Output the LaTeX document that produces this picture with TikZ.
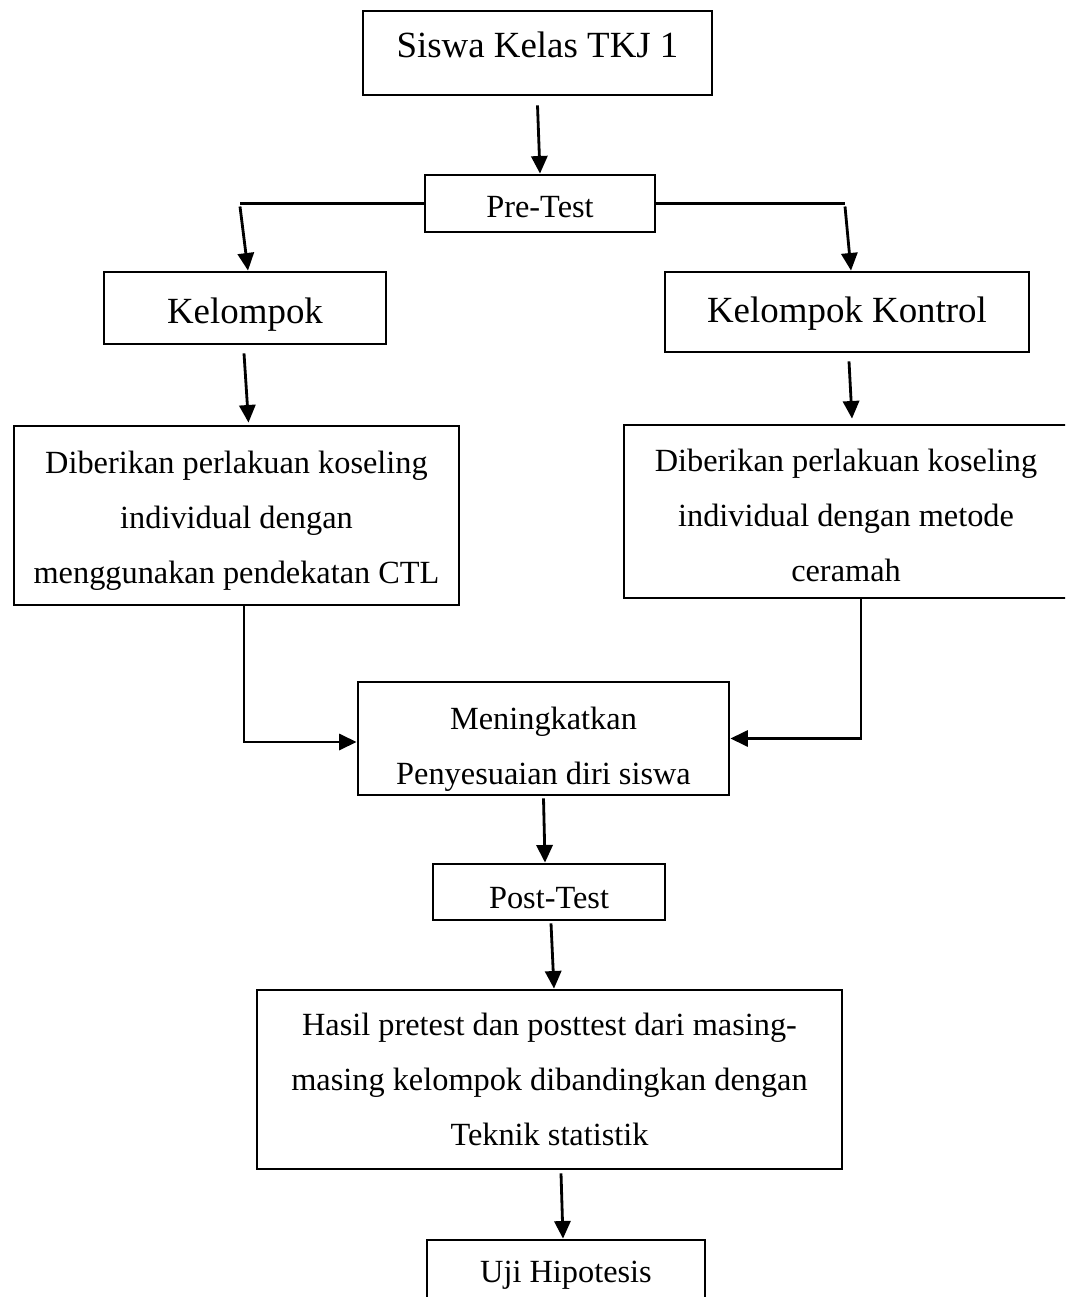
\documentclass[tikz,border=0pt]{standalone}
\usepackage{fontspec}
\setmainfont{Liberation Serif}
\usetikzlibrary{arrows.meta,positioning}

\begin{document}
\begin{tikzpicture}[
		arrow/.style={thick, -{Triangle[length=5pt, width=4.6pt]}},
		line/.style={thick},
		block/.style={draw, thick, align=center, inner sep=0pt, font=\fontsize{9.2}{15.6}\selectfont},
		bigblock/.style={block, font=\fontsize{10.5}{15.6}\selectfont},
	]
		\useasboundingbox (0,0) rectangle (10.65,-12.97);
		\clip (0,0) rectangle (10.65,-12.97);
		
		\node (siswa) [bigblock, minimum width=3.49cm, minimum height=0.84cm, text depth=4.5pt] at (5.375,-0.53) {Siswa Kelas TKJ 1};
		\node (pre) [block, minimum width=2.30cm, minimum height=0.57cm, text height=8pt] at (5.40,-2.035) {Pre-Test};
		\node (kel) [bigblock, minimum width=2.82cm, minimum height=0.72cm, text height=11pt] at (2.45,-3.08) {Kelompok};
		\node (kon) [bigblock, minimum width=3.64cm, minimum height=0.80cm, text height=8.4pt] at (8.47,-3.12) {Kelompok Kontrol};
		
		\node (ctl) [block, minimum width=4.45cm, minimum height=1.79cm] at (2.365,-5.155) {\rule{0pt}{9.2pt}Diberikan perlakuan koseling\\ individual dengan\\ menggunakan pendekatan CTL};
		\node (cer) [block, minimum width=4.44cm, minimum height=1.73cm] at (8.46,-5.115) {\rule{0pt}{8.6pt}Diberikan perlakuan koseling\\ individual dengan metode\\ ceramah};
		
		\node (men) [block, minimum width=3.71cm, minimum height=1.13cm] at (5.435,-7.385) {\rule{0pt}{12.5pt}Meningkatkan\\ Penyesuaian diri siswa};
		\node (post) [block, minimum width=2.32cm, minimum height=0.56cm, text height=9.5pt] at (5.49,-8.92) {Post-Test};
		\node (hasil) [block, minimum width=5.85cm, minimum height=1.79cm] at (5.495,-10.795) {Hasil pretest dan posttest dari masing-\\ masing kelompok dibandingkan dengan\\ Teknik statistik};
		\node (uji) [block, minimum width=2.78cm, minimum height=0.70cm] at (5.66,-12.75) {Uji Hipotesis};
		
		\coordinate (pl) at (2.40,-2.035);
		\coordinate (pr) at (8.45,-2.035);
		
		\draw[arrow] ([yshift=-0.9mm]siswa.south) -- (pre.north);
		\draw[line] (pre.west) -- (pl);
		\draw[line] (pre.east) -- (pr);
		\draw[arrow] ([yshift=-0.3mm]pl) -- ([xshift=0.3mm]kel.north);
		\draw[arrow] ([yshift=-0.3mm]pr) -- ([xshift=0.4mm]kon.north);
		\draw[arrow] ([xshift=-0.1mm, yshift=-0.8mm]kel.south) -- ([xshift=1.2mm, yshift=0.2mm]ctl.north);
		\draw[arrow] ([xshift=0.2mm, yshift=-0.8mm]kon.south) -- ([xshift=0.6mm, yshift=0.5mm]cer.north);
		\draw[arrow] ([xshift=0.75mm]ctl.south) |- ([yshift=-0.35mm]men.west);
		\draw[arrow] ([xshift=1.5mm]cer.south) |- (men.east);
		\draw[arrow] ([yshift=-0.2mm]men.south) -- ([xshift=-0.4mm]post.north);
		\draw[arrow] ([xshift=0.2mm, yshift=-0.2mm]post.south) -- ([xshift=0.45mm]hasil.north);
		\draw[arrow] ([xshift=1.15mm, yshift=-0.3mm]hasil.south) -- ([xshift=-0.3mm]uji.north);
	\end{tikzpicture}
\end{document}
